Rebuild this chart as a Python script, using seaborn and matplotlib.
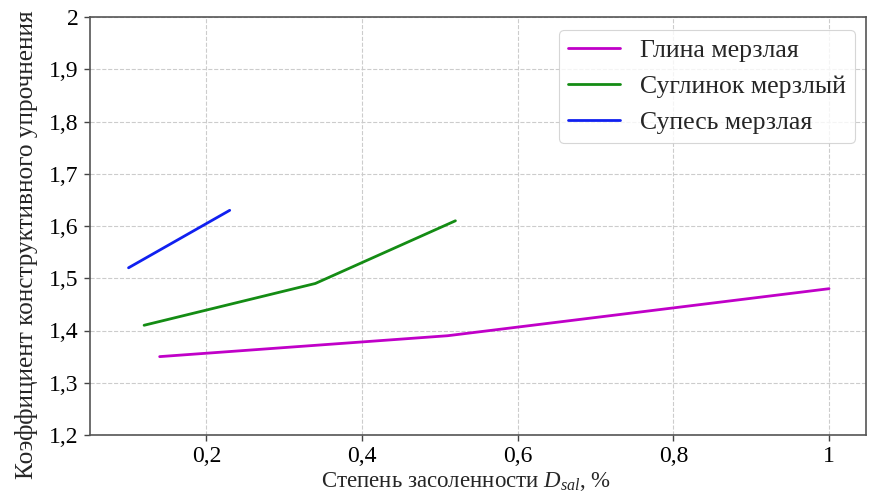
import matplotlib
matplotlib.use("Agg")
import matplotlib.pyplot as plt
import seaborn as sns
import pandas as pd

# Salinity degree D_sal (%) and strengthening coefficient for each frozen soil
clay_x = [0.14, 0.51, 1.0]
clay_y = [1.35, 1.39, 1.48]
loam_x = [0.12, 0.34, 0.52]
loam_y = [1.41, 1.49, 1.61]
sandy_x = [0.10, 0.23]
sandy_y = [1.52, 1.63]

series_names = ["Глина мерзлая", "Суглинок мерзлый", "Супесь мерзлая"]
series_colors = ["#C000C8", "#148C14", "#1020F0"]

y_ticks = [1.2, 1.3, 1.4, 1.5, 1.6, 1.7, 1.8, 1.9, 2.0]
x_ticks = [0.2, 0.4, 0.6, 0.8, 1.0]

frames = []
for name, xs, ys in zip(series_names, [clay_x, loam_x, sandy_x], [clay_y, loam_y, sandy_y]):
    frames.append(pd.DataFrame({"D": xs, "K": ys, "Грунт": name}))
df = pd.concat(frames, ignore_index=True)

sns.set_theme(style="whitegrid")
plt.rcParams["font.family"] = ["Liberation Serif", "DejaVu Serif"]
plt.rcParams["mathtext.fontset"] = "custom"
plt.rcParams["mathtext.it"] = "Liberation Serif:italic"
plt.rcParams["mathtext.rm"] = "Liberation Serif"

fig = plt.figure(figsize=(8.72, 4.97), dpi=100)
ax = fig.add_axes([90 / 872, 1 - 435 / 497, 776 / 872, 418 / 497])

sns.lineplot(data=df, x="D", y="K", hue="Грунт", hue_order=series_names,
             palette=series_colors, linewidth=2, sort=False, ax=ax, estimator=None)

ax.set_ylim(1.2, 2.0)
ax.set_xlim(0.0505, 1.0475)
ax.set_yticks(y_ticks)
ax.set_xticks(x_ticks)
ax.set_yticklabels([("%g" % v).replace(".", ",") for v in y_ticks])
ax.set_xticklabels([("%g" % v).replace(".", ",") for v in x_ticks])
ax.tick_params(axis="both", labelsize=17, labelcolor="black", color="#444444",
               length=4, width=1, left=True, bottom=True, pad=4)

ax.grid(True, linestyle="--", color="#cccccc", linewidth=0.8)
ax.set_facecolor("white")
for s in ax.spines.values():
    s.set_edgecolor("#555555")
    s.set_linewidth(1.2)

ax.set_xlabel(r"Степень засоленности $D_{sal}$, %", fontsize=16.5, labelpad=2)
ax.set_ylabel("Коэффициент конструктивного упрочнения", fontsize=18.2, labelpad=8)
ax.xaxis.label.set_x(0.4845)
ax.yaxis.label.set_y(0.455)

leg = ax.legend(loc="upper right", fontsize=18.5, frameon=True, title=None,
                borderpad=0.35, labelspacing=0.5, handlelength=2.0, handletextpad=0.8,
                borderaxespad=0, bbox_to_anchor=(1 - 11 / 776, 1 - 13 / 418))
leg.get_frame().set_edgecolor("#cccccc")
leg.get_frame().set_linewidth(0.8)

fig.savefig("out.png", dpi=100)
